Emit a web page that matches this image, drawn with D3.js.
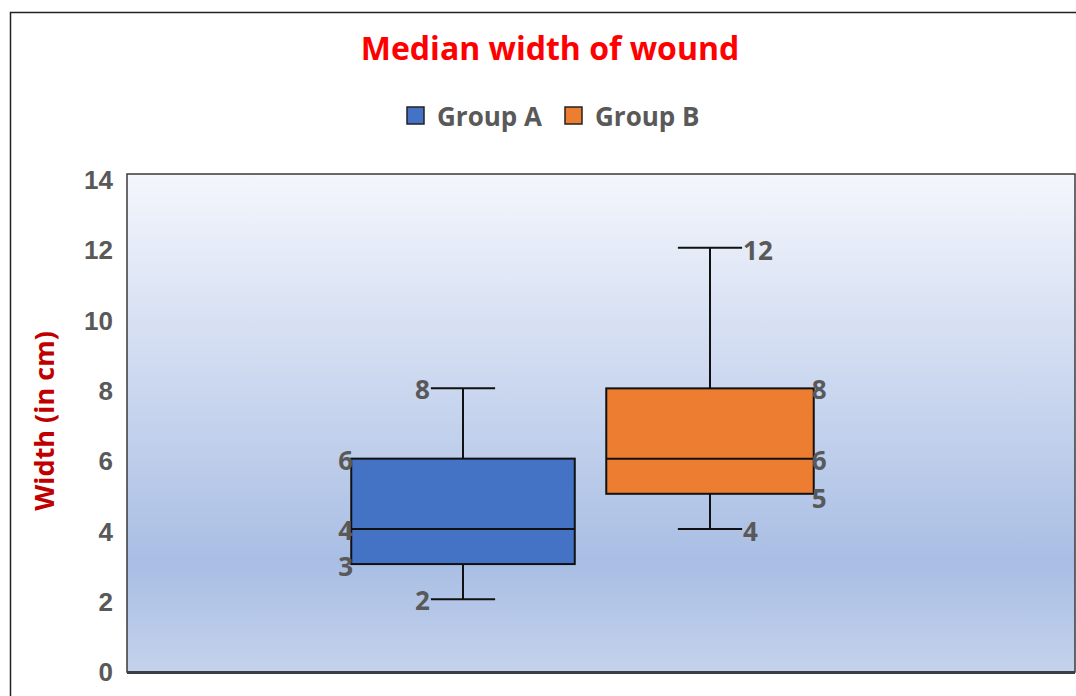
<!DOCTYPE html>
<html>
<head>
<meta charset="utf-8">
<script src="https://cdn.jsdelivr.net/npm/d3@7"></script>
<style>
  html, body { margin: 0; padding: 0; background: #fff; }
  svg { display: block; font-family: "Open Sans", "Noto Sans", sans-serif; }
</style>
</head>
<body>
<svg id="chart" width="1076" height="696"></svg>
<script>
// Five-number summaries per group
const groups = ["Group A", "Group B"];
const minima = [2, 4];
const q1s = [3, 5];
const medians = [4, 6];
const q3s = [6, 8];
const maxima = [8, 12];
const yTicks = [0, 2, 4, 6, 8, 10, 12, 14];
const colors = ["#4472C4", "#ED7D31"];

const W = 1076, H = 696;
const plot = { left: 127, top: 174, right: 1075, bottom: 672 };
const labelSize = "26px";

const svg = d3.select("#chart");

// outer chart frame
svg.append("rect")
  .attr("x", 10.5).attr("y", 12.5)
  .attr("width", W + 20).attr("height", H + 20)
  .attr("fill", "#fff").attr("stroke", "#222").attr("stroke-width", 1.5);

// plot area background gradient
const defs = svg.append("defs");
const grad = defs.append("linearGradient")
  .attr("id", "plotGrad").attr("x1", 0).attr("y1", 0).attr("x2", 0).attr("y2", 1);
grad.append("stop").attr("offset", "0%").attr("stop-color", "#F4F6FC");
grad.append("stop").attr("offset", "78%").attr("stop-color", "#A9BEE4");
grad.append("stop").attr("offset", "100%").attr("stop-color", "#C4D2EC");

svg.append("rect")
  .attr("x", plot.left).attr("y", plot.top)
  .attr("width", plot.right - plot.left).attr("height", plot.bottom - plot.top)
  .attr("fill", "url(#plotGrad)")
  .attr("stroke", "#3a3a3a").attr("stroke-width", 1.5);
svg.append("line")
  .attr("x1", plot.left).attr("x2", plot.right)
  .attr("y1", plot.bottom + 0.5).attr("y2", plot.bottom + 0.5)
  .attr("stroke", "#3a3f47").attr("stroke-width", 3);

// scales
const y = d3.scaleLinear().domain([0, 14]).range([669.5, 177.5]);
const x = d3.scaleBand().domain(groups).range([339.5, 833.5]).padding(0);
const boxFrac = [0.905, 0.84];
const capFrac = 0.26;

// y axis labels
const yAxis = d3.axisLeft(y).tickValues(yTicks).tickSize(0).tickPadding(0);
const gy = svg.append("g").attr("transform", `translate(${plot.left - 14},2)`).call(yAxis);
gy.select(".domain").remove();
gy.selectAll("text")
  .attr("fill", "#595959")
  .style("font-size", labelSize).style("font-weight", "700")
  .attr("dy", "0.35em");

// y axis title
svg.append("text")
  .attr("transform", `translate(54,421) rotate(-90)`)
  .attr("text-anchor", "middle")
  .attr("fill", "#C00000")
  .style("font-size", "27px").style("font-weight", "700")
  .text("Width (in cm)");

// title
svg.append("text")
  .attr("x", 550).attr("y", 60)
  .attr("text-anchor", "middle")
  .attr("fill", "#FF0000")
  .style("font-size", "32px").style("font-weight", "700")
  .text("Median width of wound");

// legend
const legendX = [407, 565];
const lg = svg.append("g");
groups.forEach((g, i) => {
  lg.append("rect")
    .attr("x", legendX[i]).attr("y", 107)
    .attr("width", 17).attr("height", 17)
    .attr("fill", colors[i]).attr("stroke", "#222").attr("stroke-width", 1.5);
  lg.append("text")
    .attr("x", legendX[i] + 30).attr("y", 126)
    .attr("fill", "#595959")
    .style("font-size", labelSize).style("font-weight", "700")
    .text(g);
});

// boxes
const data = groups.map((g, i) => ({
  g, i, min: minima[i], q1: q1s[i], med: medians[i], q3: q3s[i], max: maxima[i]
}));

const bx = svg.append("g");
data.forEach(d => {
  const cx = x(d.g) + x.bandwidth() / 2;
  const bw = x.bandwidth() * boxFrac[d.i];
  const cw = x.bandwidth() * capFrac;
  const line = (x1, y1, x2, y2) => bx.append("line")
    .attr("x1", x1).attr("y1", y1).attr("x2", x2).attr("y2", y2)
    .attr("stroke", "#111").attr("stroke-width", 2);

  // whiskers
  line(cx, y(d.max), cx, y(d.q3));
  line(cx, y(d.q1), cx, y(d.min));
  line(cx - cw / 2, y(d.max), cx + cw / 2, y(d.max));
  line(cx - cw / 2, y(d.min), cx + cw / 2, y(d.min));

  // box
  bx.append("rect")
    .attr("x", cx - bw / 2).attr("y", y(d.q3))
    .attr("width", bw).attr("height", y(d.q1) - y(d.q3))
    .attr("fill", colors[d.i]).attr("stroke", "#111").attr("stroke-width", 2);
  line(cx - bw / 2, y(d.med), cx + bw / 2, y(d.med));

  // value labels
  const lab = (xx, yy, anchor, v) => bx.append("text")
    .attr("x", xx).attr("y", yy).attr("dy", "0.35em")
    .attr("text-anchor", anchor)
    .attr("fill", "#595959")
    .style("font-size", labelSize).style("font-weight", "700")
    .text(v);

  if (d.i === 0) {
    lab(cx - cw / 2 - 1, y(d.max) + 2, "end", d.max);
    lab(cx - bw / 2 + 2, y(d.q3) + 2, "end", d.q3);
    lab(cx - bw / 2 + 2, y(d.med) + 2, "end", d.med);
    lab(cx - bw / 2 + 2, y(d.q1) + 3, "end", d.q1);
    lab(cx - cw / 2 - 1, y(d.min) + 2, "end", d.min);
  } else {
    lab(cx + cw / 2 + 1, y(d.max) + 3, "start", d.max);
    lab(cx + bw / 2 - 2, y(d.q3) + 2, "start", d.q3);
    lab(cx + bw / 2 - 2, y(d.med) + 2, "start", d.med);
    lab(cx + bw / 2 - 2, y(d.q1) + 5, "start", d.q1);
    lab(cx + cw / 2 + 1, y(d.min) + 3, "start", d.min);
  }
});
</script>
</body>
</html>
